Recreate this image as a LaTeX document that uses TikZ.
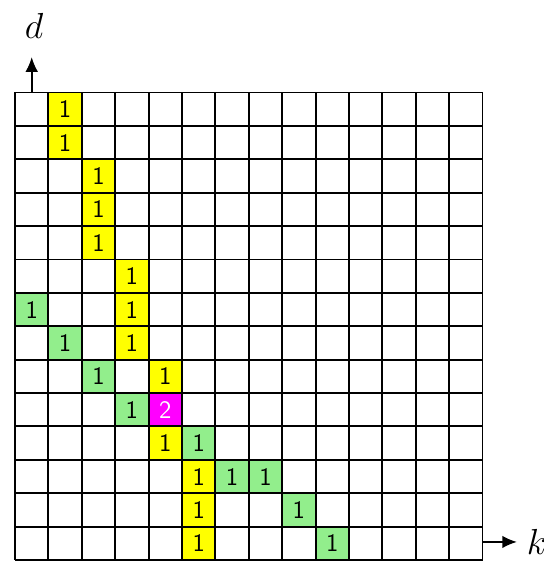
\documentclass[tikz,border=0pt]{standalone}
\usepackage{tikz}
\usetikzlibrary{arrows.meta}
\definecolor{cellyellow}{RGB}{255,255,0}
\definecolor{cellgreen}{RGB}{146,238,140}
\definecolor{cellmag}{RGB}{255,0,255}

\begin{document}
\begin{tikzpicture}[
  x=0.56cm, y=0.56cm,
  every node/.style={font=\large\sffamily},
  hit/.style={minimum size=0.56cm, inner sep=0pt, outer sep=0pt},
  yel/.style={hit, fill=cellyellow},
  grn/.style={hit, fill=cellgreen},
  mag/.style={hit, fill=cellmag, text=white},
  axlab/.style={font=\LARGE},
  arr/.style={-{Latex[length=7pt,width=6pt]}, line width=0.8pt}
]
  \useasboundingbox (-0.45,-0.03) rectangle (15.84,16.77);

  % filled cells, given as column/row counted from the top left
  \foreach \c/\r [count=\i] in {2/1,2/2,3/3,3/4,3/5,4/6,4/7,4/8,5/9,5/11,6/12,6/13,6/14}
    \node[yel] (y\i) at (\c-0.5,14.5-\r) {1};
  \foreach \c/\r [count=\i] in {1/7,2/8,3/9,4/10,6/11,7/12,8/12,9/13,10/14}
    \node[grn] (g\i) at (\c-0.5,14.5-\r) {1};
  \node[mag] (peak) at (4.5,4.5) {2};

  % grid lines
  \foreach \i in {0,...,14} {
    \draw[line width=0.9pt] (\i,0) -- (\i,14);
    \draw[line width=0.9pt] (0,\i) -- (14,\i);
  }

  % axes
  \coordinate (dfoot) at (0.5,14);
  \coordinate (dtip)  at (0.5,15.06);
  \node[axlab] (dlab) at (0.57,15.99) {$d$};
  \draw[arr] (dfoot) -- (dtip);

  \coordinate (kfoot) at (14,0.54);
  \coordinate (ktip)  at (15.03,0.54);
  \node[axlab] (klab) at (15.62,0.55) {$k$};
  \draw[arr] (kfoot) -- (ktip);
\end{tikzpicture}
\end{document}
